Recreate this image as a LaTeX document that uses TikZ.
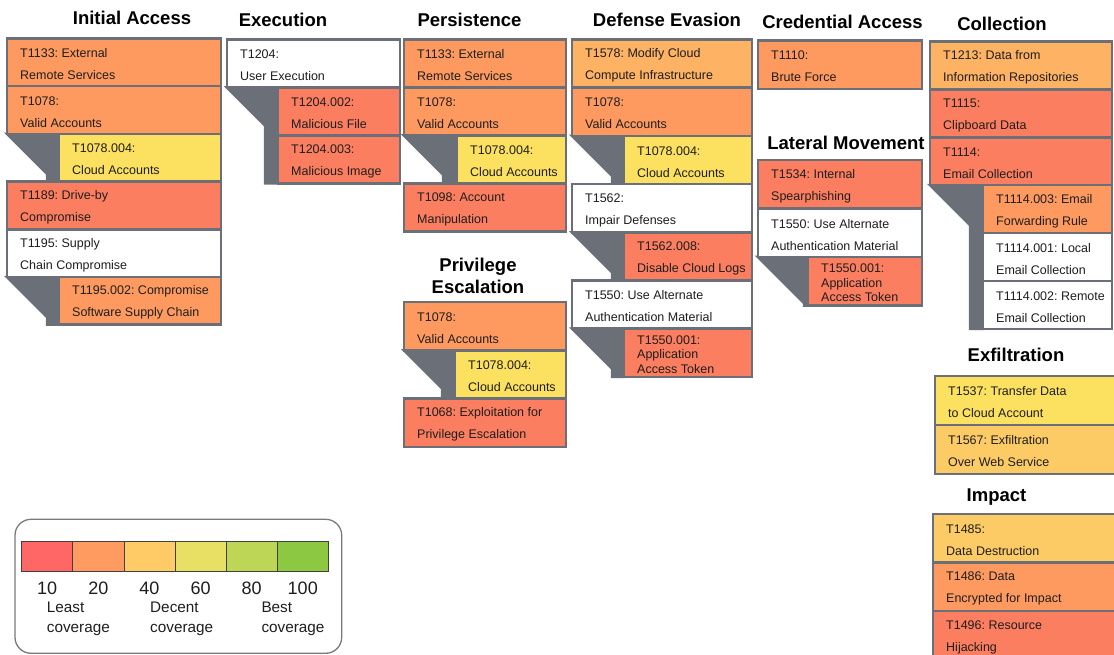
\documentclass[tikz,border=0pt]{standalone}
\usepackage{fontspec}
\setmainfont{Liberation Sans}
\usetikzlibrary{calc}
\pgfdeclarelayer{background}
\pgfsetlayers{background,main}
\frenchspacing

% coverage palette
\definecolor{edgegray}{HTML}{6B7078}
\definecolor{framegray}{HTML}{7A7A7A}
\definecolor{ink}{HTML}{1E1E1E}
\definecolor{cRed}{HTML}{FC7E60}
\definecolor{cOrange}{HTML}{FE9A60}
\definecolor{cLightOrange}{HTML}{FDB264}
\definecolor{cAmber}{HTML}{FDCB65}
\definecolor{cYellow}{HTML}{FCE160}
\definecolor{lgA}{HTML}{FF6666}
\definecolor{lgB}{HTML}{FF9A60}
\definecolor{lgC}{HTML}{FFCB66}
\definecolor{lgD}{HTML}{E8E064}
\definecolor{lgE}{HTML}{BDD655}
\definecolor{lgF}{HTML}{8CC842}

\tikzset{
  techbox/.style={rectangle, draw=edgegray, line width=2.5pt, inner sep=0pt,
    outer sep=0pt, anchor=north west},
  techtext/.style={font=\fontsize{12.5}{22}\selectfont, text=ink, align=left,
    inner sep=0pt, anchor=west},
  tight/.style={font=\fontsize{12.5}{14.5}\selectfont},
  tactic/.style={font=\bfseries\fontsize{18.5}{22}\selectfont, text=black,
    align=center, inner sep=0pt},
  wedgefill/.style={fill=edgegray, draw=edgegray, line width=2.5pt},
  legendcell/.style={rectangle, draw=black!75, line width=0.8pt, inner sep=0pt,
    outer sep=0pt, anchor=north west, minimum width=51.1pt, minimum height=29.3pt},
  legendnum/.style={font=\fontsize{18}{20}\selectfont, text=ink, inner sep=0pt},
  legendlabel/.style={font=\fontsize{15.3}{20}\selectfont, text=ink, align=left,
    inner sep=0pt, anchor=west}
}

% \techcell[text options]{name}{x1}{y1}{x2}{y2}{fill}{text}
\newcommand\techcell[8][]{%
  \node[techbox, fill=#7, minimum width={(#5-#3)*1pt},
    minimum height={(#6-#4)*1pt}] (#2) at (#3,#4) {};
  \node[techtext, #1] (#2-t) at ([xshift=13pt,yshift=-1.8pt]#2.west) {#8};}

% grey bracket joining a technique to its sub-techniques
% \subwedge{parent}{first sub}{last sub}{gap}
\newcommand\subwedge[4]{%
  \begin{pgfonlayer}{background}
    \path[wedgefill] let \p1=(#1.south west), \p2=(#2.north west),
      \p3=(#3.south west) in
      (\p1) -- (\p2) -- (\p3) -- (\x2-#4pt,\y3)
      -- (\x2-#4pt,{\y1-\x2+#4pt+\x1}) -- cycle;
  \end{pgfonlayer}}

\begin{document}
\begin{tikzpicture}[x=1pt,y=-1pt]
\useasboundingbox (0,0) rectangle (1114,655);
\begin{pgfonlayer}{background}
  \fill[white] (0,0) rectangle (1114,655);
\end{pgfonlayer}
\clip (0,0) rectangle (1114,655);

% ---- tactic headings
\node[tactic] (t-ia) at (132,18.3) {Initial Access};
\node[tactic] (t-ex) at (283,20) {Execution};
\node[tactic] (t-pe) at (469.5,20) {Persistence};
\node[tactic] (t-pr) at (478,276) {Privilege\\Escalation};
\node[tactic] (t-de) at (667,20) {Defense Evasion};
\node[tactic] (t-ca) at (842.5,21.5) {Credential Access};
\node[tactic] (t-lm) at (846,143) {Lateral Movement};
\node[tactic] (t-co) at (1002,24) {Collection};
\node[tactic] (t-exf) at (1016,355) {Exfiltration};
\node[tactic] (t-im) at (996.5,497) {Impact};

% ---- Initial Access
\techcell{ia0}{7}{38.5}{221}{86.2}{cOrange}{T1133: External\\Remote Services}
\techcell{ia1}{7}{86.2}{221}{133.9}{cOrange}{T1078:\\Valid Accounts}
\techcell{ia2}{59}{133.9}{221}{181.6}{cYellow}{T1078.004:\\Cloud Accounts}
\techcell{ia3}{7}{181.6}{221}{229.3}{cRed}{T1189: Drive-by\\Compromise}
\techcell{ia4}{7}{229.3}{221}{277}{white}{T1195: Supply\\Chain Compromise}
\techcell{ia5}{59}{277}{221}{324.7}{cOrange}{T1195.002: Compromise\\Software Supply Chain}
\subwedge{ia1}{ia2}{ia2}{12}
\subwedge{ia4}{ia5}{ia5}{12}

% ---- Execution
\techcell{ex0}{227}{39.5}{400}{87.5}{white}{T1204:\\User Execution}
\techcell{ex1}{278}{87.5}{400}{135.5}{cRed}{T1204.002:\\Malicious File}
\techcell{ex2}{278}{135.5}{400}{183.5}{cRed}{T1204.003:\\Malicious Image}
\subwedge{ex0}{ex1}{ex2}{13}

% ---- Persistence
\techcell{pe0}{404}{39.5}{566}{87.5}{cOrange}{T1133: External\\Remote Services}
\techcell{pe1}{404}{87.5}{566}{135.5}{cOrange}{T1078:\\Valid Accounts}
\techcell{pe2}{457}{135.5}{566}{183.5}{cYellow}{T1078.004:\\Cloud Accounts}
\techcell{pe3}{404}{183.5}{566}{231.5}{cRed}{T1098: Account\\Manipulation}
\subwedge{pe1}{pe2}{pe2}{14}

% ---- Privilege Escalation
\techcell{pr0}{404}{302}{566}{350.3}{cOrange}{T1078:\\Valid Accounts}
\techcell{pr1}{455}{350.3}{566}{398.6}{cYellow}{T1078.004:\\Cloud Accounts}
\techcell{pr2}{404}{398.6}{566}{446.9}{cRed}{T1068: Exploitation for\\Privilege Escalation}
\subwedge{pr0}{pr1}{pr1}{13}

% ---- Defense Evasion
\techcell{de0}{572}{39.5}{752}{87.7}{cLightOrange}{T1578: Modify Cloud\\Compute Infrastructure}
\techcell{de1}{572}{87.7}{752}{135.9}{cOrange}{T1078:\\Valid Accounts}
\techcell{de2}{624}{135.9}{752}{184.1}{cYellow}{T1078.004:\\Cloud Accounts}
\techcell{de3}{572}{184.1}{752}{232.3}{white}{T1562:\\Impair Defenses}
\techcell{de4}{624}{232.3}{752}{280.5}{cRed}{T1562.008:\\Disable Cloud Logs}
\techcell{de5}{572}{280.5}{752}{328.7}{white}{T1550: Use Alternate\\Authentication Material}
\techcell[tight]{de6}{624}{328.7}{752}{376.9}{cRed}{T1550.001:\\Application\\Access Token}
\subwedge{de1}{de2}{de2}{12}
\subwedge{de3}{de4}{de4}{12}
\subwedge{de5}{de6}{de6}{12}

% ---- Credential Access
\techcell{ca0}{758}{40.5}{922}{89}{cOrange}{T1110:\\Brute Force}

% ---- Lateral Movement
\techcell{lm0}{758}{160}{922}{208.5}{cRed}{T1534: Internal\\Spearphishing}
\techcell{lm1}{758}{208.5}{922}{257}{white}{T1550: Use Alternate\\Authentication Material}
\techcell[tight]{lm2}{808}{257}{922}{305.5}{cRed}{T1550.001:\\Application\\Access Token}
\subwedge{lm1}{lm2}{lm2}{4}

% ---- Collection
\techcell{co0}{930}{41.5}{1112}{89.4}{cLightOrange}{T1213: Data from\\Information Repositories}
\techcell{co1}{930}{89.4}{1112}{137.3}{cRed}{T1115:\\Clipboard Data}
\techcell{co2}{930}{137.3}{1112}{185.2}{cRed}{T1114:\\Email Collection}
\techcell{co3}{983}{185.2}{1112}{233.1}{cOrange}{T1114.003: Email\\Forwarding Rule}
\techcell{co4}{983}{233.1}{1112}{281}{white}{T1114.001: Local\\Email Collection}
\techcell{co5}{983}{281}{1112}{328.9}{white}{T1114.002: Remote\\Email Collection}
\subwedge{co2}{co3}{co5}{13}

% ---- Exfiltration
\techcell{xf0}{935}{376}{1120}{425}{cYellow}{T1537: Transfer Data\\to Cloud Account}
\techcell{xf1}{935}{425}{1120}{474}{cAmber}{T1567: Exfiltration\\Over Web Service}

% ---- Impact
\techcell{im0}{933}{514}{1120}{562.5}{cAmber}{T1485:\\Data Destruction}
\techcell{im1}{933}{562.5}{1120}{611}{cOrange}{T1486: Data\\Encrypted for Impact}
\techcell{im2}{933}{611}{1120}{659.5}{cRed}{T1496: Resource\\Hijacking}

% ---- coverage legend
\node[rectangle, draw=framegray, line width=1.3pt, rounded corners=16pt,
  minimum width=326.7pt, minimum height=134pt, inner sep=0pt, outer sep=0pt,
  anchor=north west] (legend) at (15,519.3) {};
\foreach \c/\n [count=\i from 0] in {lgA/10,lgB/20,lgC/40,lgD/60,lgE/80,lgF/100}{
  \node[legendcell, fill=\c] (cell\i) at ({21.7+51.1*\i},541.7) {};
  \node[legendnum] (num\i) at ([yshift=-17pt]cell\i.south) {\n};
}
\node[legendlabel] (lbl-least) at (46.7,619) {Least\\coverage};
\node[legendlabel] (lbl-decent) at (150,619) {Decent\\coverage};
\node[legendlabel] (lbl-best) at (261.3,619) {Best\\coverage};
\end{tikzpicture}
\end{document}
